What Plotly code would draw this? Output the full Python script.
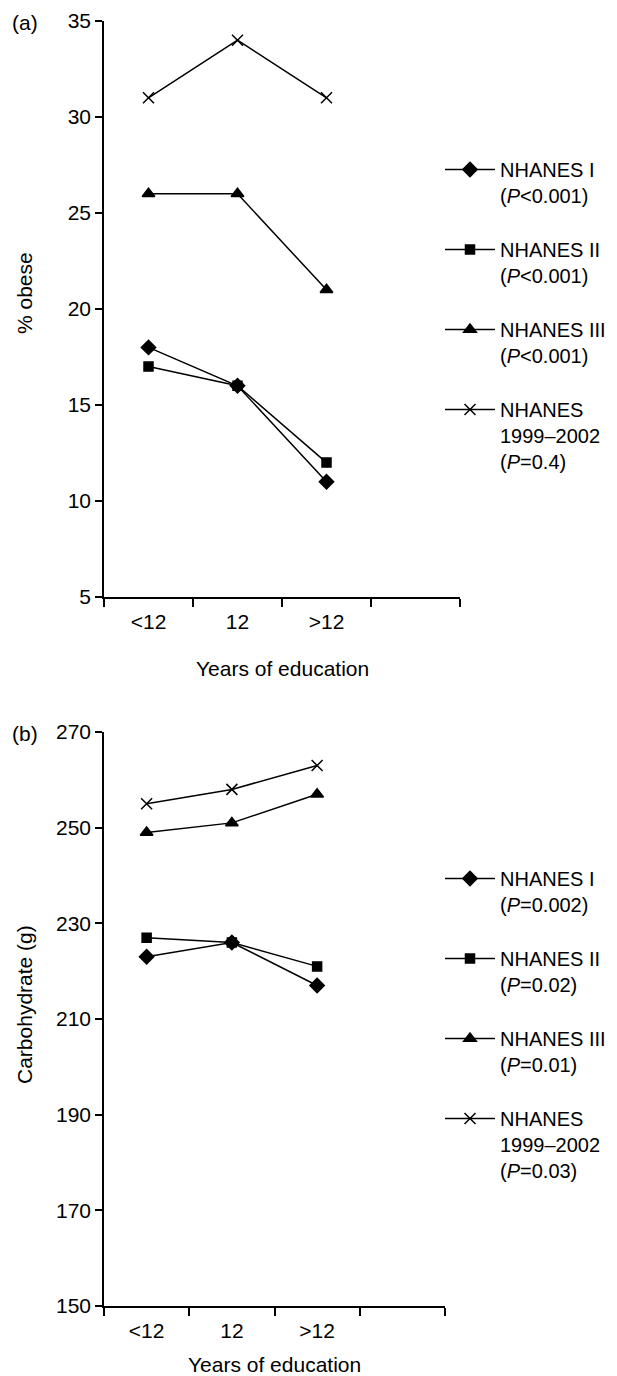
import html
import plotly.graph_objects as go

# ---- data ----
categories = ["<12", "12", ">12"]
series_names_a = [
    "NHANES I<br>(<i>P</i>&lt;0.001)",
    "NHANES II<br>(<i>P</i>&lt;0.001)",
    "NHANES III<br>(<i>P</i>&lt;0.001)",
    "NHANES<br>1999–2002<br>(<i>P</i>=0.4)",
]
series_names_b = [
    "NHANES I<br>(<i>P</i>=0.002)",
    "NHANES II<br>(<i>P</i>=0.02)",
    "NHANES III<br>(<i>P</i>=0.01)",
    "NHANES<br>1999–2002<br>(<i>P</i>=0.03)",
]
obese_nhanes1 = [18, 16, 11]
obese_nhanes2 = [17, 16, 12]
obese_nhanes3 = [26, 26, 21]
obese_nhanes9902 = [31, 34, 31]
carb_nhanes1 = [223, 226, 217]
carb_nhanes2 = [227, 226, 221]
carb_nhanes3 = [249, 251, 257]
carb_nhanes9902 = [255, 258, 263]
yticks_a = [5, 10, 15, 20, 25, 30, 35]
yticks_b = [150, 170, 190, 210, 230, 250, 270]

W, H = 617, 1376
FONT = "Liberation Sans, Arial, Helvetica, sans-serif"


def px(x):
    return x / W


def py(y):
    return 1 - y / H


symbols = ["diamond", "square", "triangle-up", "x-thin"]
sizes = [11, 9, 11, 11]
xidx = list(range(len(categories)))

fig = go.Figure()
for i, (vals, name) in enumerate(zip([obese_nhanes1, obese_nhanes2, obese_nhanes3, obese_nhanes9902], series_names_a)):
    fig.add_trace(go.Scatter(
        x=xidx, y=vals, name=name, mode="lines+markers",
        line=dict(color="black", width=1.5),
        marker=dict(symbol=symbols[i], size=sizes[i], color="black",
                    line=dict(color="black", width=1.5)),
        xaxis="x", yaxis="y", legend="legend", legendgroup="a%d" % i,
    ))
for i, (vals, name) in enumerate(zip([carb_nhanes1, carb_nhanes2, carb_nhanes3, carb_nhanes9902], series_names_b)):
    fig.add_trace(go.Scatter(
        x=xidx, y=vals, name=name, mode="lines+markers",
        line=dict(color="black", width=1.5),
        marker=dict(symbol=symbols[i], size=sizes[i], color="black",
                    line=dict(color="black", width=1.5)),
        xaxis="x2", yaxis="y2", legend="legend2", legendgroup="b%d" % i,
    ))

boundaries = [i - 0.5 for i in range(len(categories) + 2)]
ticktext = [html.escape(c) for c in categories]

xcommon = dict(
    range=[-0.5, len(categories) + 0.5], showline=True, linecolor="black", linewidth=1.5,
    showgrid=False, zeroline=False, tickvals=xidx, ticktext=ticktext, ticks="",
    tickfont=dict(size=21, color="black", family=FONT), ticklabelstandoff=5,
    minor=dict(tickvals=boundaries, ticks="outside", ticklen=8, tickwidth=1.5,
               tickcolor="black", showgrid=False),
    automargin=False, fixedrange=True,
)
ycommon = dict(
    showline=True, linecolor="black", linewidth=1.5, showgrid=False, zeroline=False,
    ticks="outside", ticklen=7, tickwidth=1.5, tickcolor="black",
    tickfont=dict(size=21, color="black", family=FONT), automargin=False,
)

legend_common = dict(
    xanchor="left", yanchor="top", bgcolor="rgba(0,0,0,0)", borderwidth=0,
    font=dict(size=20, color="black", family=FONT), valign="top",
    traceorder="grouped", tracegroupgap=25, itemwidth=50,
)

fig.update_layout(
    width=W, height=H, margin=dict(l=0, r=0, t=0, b=0),
    paper_bgcolor="white", plot_bgcolor="white",
    font=dict(family=FONT, color="black", size=21),
    xaxis=dict(domain=[px(104), px(460)], anchor="y", **xcommon),
    yaxis=dict(domain=[py(597), py(21)], anchor="x", range=[5, 35], tickvals=yticks_a, **ycommon),
    xaxis2=dict(domain=[px(104), px(445)], anchor="y2", **xcommon),
    yaxis2=dict(domain=[py(1306), py(732)], anchor="x2", range=[150, 270], tickvals=yticks_b, **ycommon),
    legend=dict(x=px(440), y=py(150), **legend_common),
    legend2=dict(x=px(440), y=py(859), **legend_common),
    showlegend=True,
)

annotations = [
    dict(text="(a)", x=px(10), y=py(22), xanchor="left", yanchor="middle"),
    dict(text="(b)", x=px(10), y=py(733), xanchor="left", yanchor="middle"),
    dict(text="% obese", x=px(24), y=py(293), textangle=-90, xanchor="center", yanchor="middle"),
    dict(text="Carbohydrate (g)", x=px(24), y=py(1005), textangle=-90, xanchor="center", yanchor="middle"),
    dict(text="Years of education", x=px(282), y=py(668), xanchor="center", yanchor="middle"),
    dict(text="Years of education", x=px(274), y=py(1364), xanchor="center", yanchor="middle"),
]
for a in annotations:
    a.update(xref="paper", yref="paper", showarrow=False, font=dict(size=21, color="black", family=FONT))
fig.update_layout(annotations=annotations)

fig.write_html(
    "out.html",
    config={"displayModeBar": False},
    post_script="document.body.style.margin='0';document.body.style.padding='0';document.body.style.overflow='hidden';",
)
